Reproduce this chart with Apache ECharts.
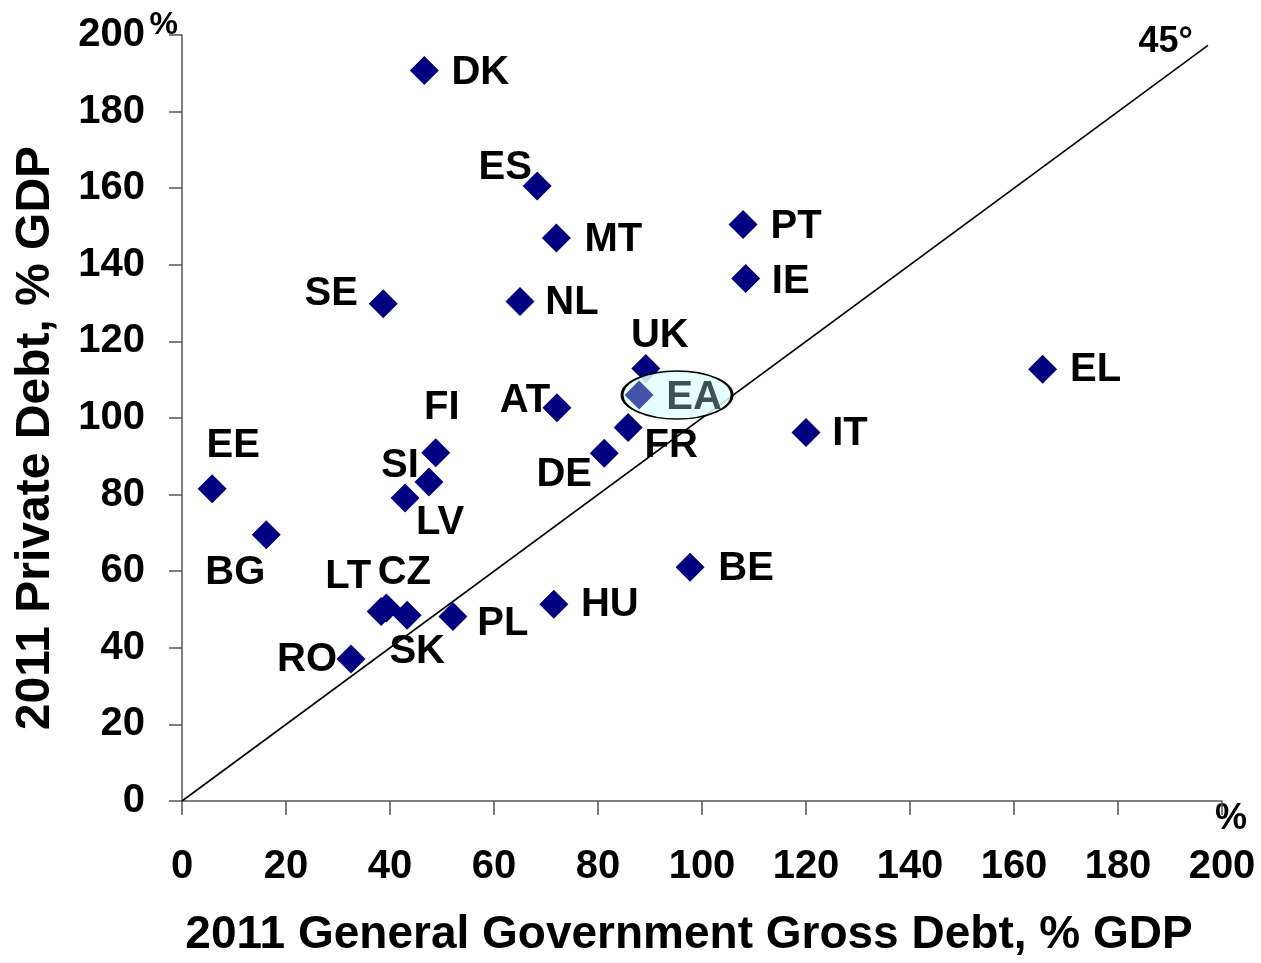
<!DOCTYPE html>
<html>
<head>
<meta charset="utf-8">
<script src="https://cdn.jsdelivr.net/npm/echarts@6/dist/echarts.min.js"></script>
<style>
html,body{margin:0;padding:0;background:#fff;}
#chart{width:1261px;height:963px;}
</style>
</head>
<body>
<div id="chart"></div>
<script>
const countries = ['DK','ES','MT','PT','IE','SE','NL','UK','EL','EA','AT','IT','FR','FI','DE','SI','LV','EE','BG','BE','HU','LT','CZ','SK','PL','RO'];
const govDebt   = [46.6, 68.3, 72.0, 107.9, 108.4, 38.7, 65.0, 89.2, 165.5, 87.9, 72.1, 120.0, 85.8, 48.8, 81.2, 47.5, 42.9, 5.8, 16.2, 97.7, 71.5, 38.3, 39.3, 43.3, 52.1, 32.5];
const privDebt  = [190.7, 160.6, 147.0, 150.5, 136.4, 129.8, 130.4, 112.9, 112.7, 106.0, 102.7, 96.2, 97.5, 90.9, 90.8, 83.3, 79.1, 81.5, 69.5, 61.0, 51.4, 49.5, 50.4, 48.5, 48.2, 37.1];
const diagonal  = [0, 197.3];
const xTicks = [0, 20, 40, 60, 80, 100, 120, 140, 160, 180, 200];
const yTicks = [0, 20, 40, 60, 80, 100, 120, 140, 160, 180, 200];

// label placement (pixel offsets of label centre from marker centre)
const labelOffset = {
  DK:[56,2], ES:[-32,-18], MT:[57,2], PT:[53,2], IE:[45,3], SE:[-52,-10], NL:[52,1],
  UK:[14,-33], EL:[53,1], EA:[55,3], AT:[-32,-7], IT:[44,1], FR:[43,18], FI:[6,-45],
  DE:[-40,22], SI:[-29,-16], LV:[35,25], EE:[21,-43], BG:[-31,38], BE:[56,2], HU:[56,1],
  LT:[-33,-34], CZ:[18,-35], SK:[10,37], PL:[50,8], RO:[-44,1]
};

const FONT = '"Liberation Sans", Arial, sans-serif';
const navy = '#000080';

const mainData = [];
let eaItem = null;
countries.forEach((c, i) => {
  const item = { name: c, value: [govDebt[i], privDebt[i]] };
  if (c === 'EA') eaItem = item; else mainData.push(item);
});

function placeLabel(list) {
  return function (p) {
    const off = labelOffset[list[p.dataIndex].name] || [0, 0];
    return {
      x: p.rect.x + p.rect.width / 2 + off[0],
      y: p.rect.y + p.rect.height / 2 + off[1],
      align: 'center', verticalAlign: 'middle'
    };
  };
}

const chart = echarts.init(document.getElementById('chart'));
const axisLineStyle = { color: '#555', width: 1.5 };

chart.setOption({
  animation: false,
  backgroundColor: '#fff',
  grid: { left: 182, right: 39, top: 35, bottom: 157, containLabel: false },
  xAxis: [{
    type: 'value', min: xTicks[0], max: xTicks[xTicks.length - 1], interval: 20,
    name: '2011 General Government Gross Debt, % GDP',
    nameLocation: 'middle', nameGap: 111, nameMoveOverlap: false,
    nameTextStyle: { fontFamily: FONT, fontWeight: 'bold', fontSize: 46, color: '#000', padding: [0, 26, 0, 0] },
    axisLine: { show: true, lineStyle: axisLineStyle },
    axisTick: { show: true, length: 14, lineStyle: axisLineStyle },
    axisLabel: { margin: 46, fontFamily: FONT, fontWeight: 'bold', fontSize: 40, color: '#000' },
    splitLine: { show: false }
  }, {
    type: 'value', min: 0, max: 200, position: 'bottom',
    name: '%', nameLocation: 'end', nameGap: -7, nameMoveOverlap: false,
    nameTextStyle: { fontFamily: FONT, fontWeight: 'bold', fontSize: 36, color: '#000', verticalAlign: 'top' },
    axisLine: { show: false }, axisTick: { show: false }, axisLabel: { show: false }, splitLine: { show: false }
  }],
  yAxis: [{
    type: 'value', min: yTicks[0], max: yTicks[yTicks.length - 1], interval: 20,
    name: '2011 Private Debt, % GDP',
    nameLocation: 'middle', nameGap: 122, nameRotate: 90, nameMoveOverlap: false,
    nameTextStyle: { fontFamily: FONT, fontWeight: 'bold', fontSize: 48, color: '#000', padding: [0, 40, 0, 0] },
    axisLine: { show: true, lineStyle: axisLineStyle },
    axisTick: { show: true, length: 13, lineStyle: axisLineStyle },
    axisLabel: { margin: 37, fontFamily: FONT, fontWeight: 'bold', fontSize: 40, color: '#000' },
    splitLine: { show: false }
  }, {
    type: 'value', min: 0, max: 200, position: 'left',
    name: '%', nameLocation: 'end', nameGap: 10, nameMoveOverlap: false,
    nameTextStyle: { fontFamily: FONT, fontWeight: 'bold', fontSize: 32, color: '#000', align: 'right', verticalAlign: 'middle', padding: [0, 4, 0, 0] },
    axisLine: { show: false }, axisTick: { show: false }, axisLabel: { show: false }, splitLine: { show: false }
  }],
  series: [
    {
      type: 'line', silent: true, symbol: 'none', z: 1,
      data: [[diagonal[0], diagonal[0]], [diagonal[1], diagonal[1]]],
      lineStyle: { color: '#000', width: 1.6 },
      endLabel: {
        show: true, formatter: '45°', distance: 0, offset: [-15, -3],
        align: 'right', verticalAlign: 'middle',
        fontFamily: FONT, fontWeight: 'bold', fontSize: 36, color: '#000'
      }
    },
    {
      type: 'scatter', symbol: 'diamond', symbolSize: 29, z: 3,
      itemStyle: { color: navy, opacity: 1 },
      label: {
        show: true, position: 'inside', formatter: p => p.name,
        fontFamily: FONT, fontWeight: 'bold', fontSize: 40, color: '#000'
      },
      labelLayout: placeLabel(mainData),
      data: mainData
    },
    {
      // highlight ellipse around the euro-area aggregate
      type: 'scatter', symbol: 'circle', symbolSize: [110, 48], symbolOffset: [38, 0], z: 4, silent: true,
      itemStyle: { color: 'rgba(226,255,255,0.85)', borderColor: '#000', borderWidth: 2, opacity: 1 },
      data: [eaItem.value]
    },
    {
      type: 'scatter', symbol: 'diamond', symbolSize: 29, z: 5,
      itemStyle: { color: '#4452a8', opacity: 1 },
      label: {
        show: true, position: 'inside', formatter: p => p.name,
        fontFamily: FONT, fontWeight: 'bold', fontSize: 40, color: '#3d5252'
      },
      labelLayout: placeLabel([eaItem]),
      data: [eaItem]
    }
  ]
});
</script>
</body>
</html>
